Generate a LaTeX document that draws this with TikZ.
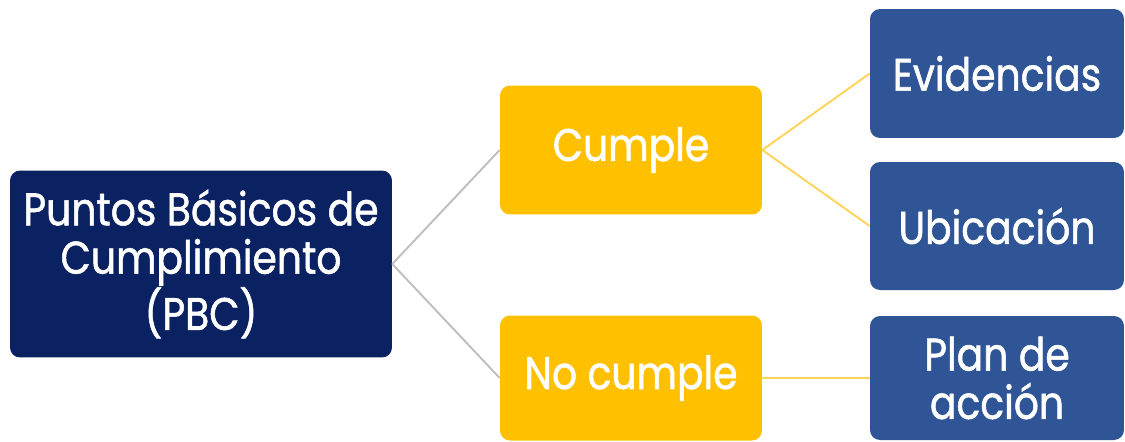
\documentclass[tikz,border=0pt]{standalone}
\usepackage{fontspec}
\setmainfont{Poppins}[FakeStretch=0.86,FakeBold=1.2]
\definecolor{navy}{HTML}{0B2262}
\definecolor{gold}{HTML}{FFC000}
\definecolor{leafblue}{HTML}{2F5597}
\definecolor{linegray}{HTML}{BFBFBF}
\definecolor{linegold}{HTML}{FFD45A}
\begin{document}
\begin{tikzpicture}[x=0.02cm,y=-0.02cm,
  box/.style={rounded corners=0.2cm, inner sep=0pt, align=center, text=white,
    font=\fontsize{26}{27.5}\selectfont},
  rootbox/.style={box, fill=navy, minimum width=7.64cm, minimum height=3.74cm},
  midbox/.style={box, fill=gold, minimum width=5.24cm, minimum height=2.58cm},
  leafbox/.style={box, fill=leafblue, minimum width=5.08cm, minimum height=2.56cm},
  grayline/.style={draw=linegray, line width=1.1pt},
  goldline/.style={draw=linegold, line width=1.1pt}]
\useasboundingbox (0,0) rectangle (1125,441);
\node[rootbox] (root) at (201,264) {Puntos Básicos de\\Cumplimiento\\(PBC)};
\node[midbox] (cumple) at (631,150) {Cumple};
\node[midbox, minimum height=2.5cm] (nocumple) at (631,378) {No cumple};
\node[leafbox, minimum height=2.58cm] (evid) at (997,73.5) {Evidencias};
\node[leafbox] (ubic) at (997,226) {Ubicación};
\node[leafbox, minimum height=2.48cm] (plan) at (997,378) {Plan de\\acción};
\draw[grayline] (root.east) -- (cumple.west);
\draw[grayline] (root.east) -- (nocumple.west);
\draw[goldline] (cumple.east) -- (evid.west);
\draw[goldline] (cumple.east) -- (ubic.west);
\draw[goldline] (nocumple.east) -- (plan.west);
\end{tikzpicture}
\end{document}
